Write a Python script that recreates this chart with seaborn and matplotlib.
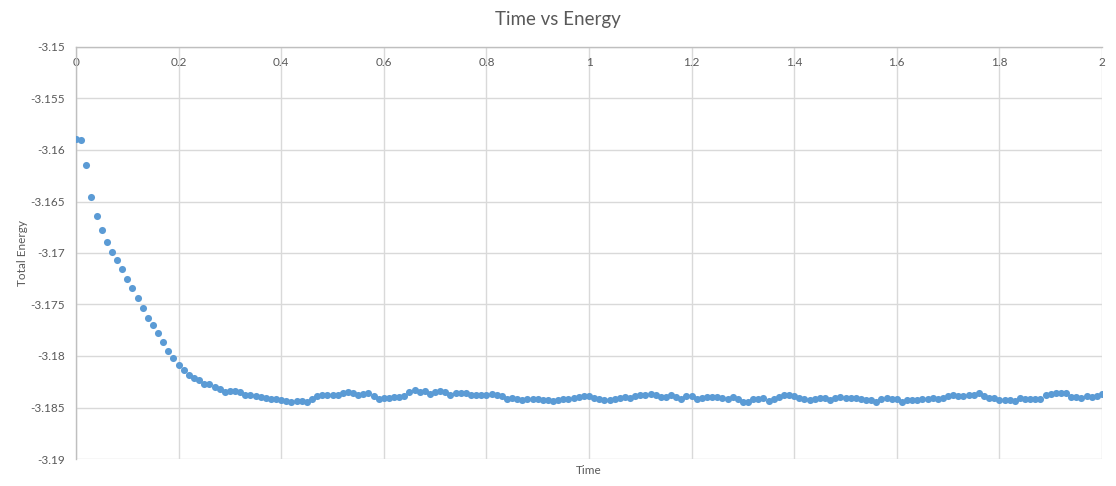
import numpy as np
import pandas as pd
import seaborn as sns
import matplotlib.pyplot as plt
from matplotlib.ticker import FormatStrFormatter, MultipleLocator

# time axis: 0 to 2 in steps of 0.01 (201 samples)
t_start, t_stop, n_steps = 0.0, 2.0, 201
time = np.round(np.linspace(t_start, t_stop, n_steps), 2)

# total energy
energy = [
    -3.15896, -3.15906, -3.16149, -3.16459, -3.16644, -3.16780, -3.16896, -3.16987, -3.17071, -3.17158,
    -3.17255, -3.17343, -3.17440, -3.17537, -3.17634, -3.17702, -3.17780, -3.17867, -3.17954, -3.18022,
    -3.18090, -3.18139, -3.18187, -3.18216, -3.18233, -3.18275, -3.18275, -3.18298, -3.18323, -3.18348,
    -3.18341, -3.18335, -3.18354, -3.18374, -3.18380, -3.18387, -3.18396, -3.18406, -3.18413, -3.18419,
    -3.18429, -3.18439, -3.18445, -3.18439, -3.18435, -3.18445, -3.18413, -3.18387, -3.18380, -3.18380,
    -3.18380, -3.18374, -3.18361, -3.18354, -3.18361, -3.18374, -3.18367, -3.18358, -3.18385, -3.18413,
    -3.18406, -3.18403, -3.18396, -3.18396, -3.18387, -3.18354, -3.18332, -3.18348, -3.18341, -3.18371,
    -3.18348, -3.18341, -3.18354, -3.18374, -3.18364, -3.18364, -3.18364, -3.18380, -3.18380, -3.18380,
    -3.18380, -3.18371, -3.18380, -3.18390, -3.18413, -3.18406, -3.18419, -3.18426, -3.18413, -3.18413,
    -3.18413, -3.18426, -3.18429, -3.18439, -3.18426, -3.18416, -3.18422, -3.18406, -3.18396, -3.18390,
    -3.18390, -3.18403, -3.18422, -3.18426, -3.18426, -3.18413, -3.18406, -3.18400, -3.18403, -3.18390,
    -3.18380, -3.18380, -3.18371, -3.18374, -3.18396, -3.18396, -3.18380, -3.18396, -3.18413, -3.18390,
    -3.18390, -3.18413, -3.18406, -3.18400, -3.18400, -3.18400, -3.18406, -3.18419, -3.18400, -3.18419,
    -3.18445, -3.18445, -3.18419, -3.18413, -3.18406, -3.18439, -3.18419, -3.18396, -3.18374, -3.18374,
    -3.18387, -3.18403, -3.18419, -3.18426, -3.18422, -3.18403, -3.18403, -3.18429, -3.18406, -3.18396,
    -3.18403, -3.18403, -3.18406, -3.18413, -3.18429, -3.18432, -3.18445, -3.18419, -3.18403, -3.18413,
    -3.18413, -3.18451, -3.18429, -3.18429, -3.18426, -3.18419, -3.18419, -3.18403, -3.18413, -3.18406,
    -3.18393, -3.18377, -3.18387, -3.18393, -3.18380, -3.18374, -3.18364, -3.18387, -3.18403, -3.18406,
    -3.18429, -3.18429, -3.18432, -3.18439, -3.18406, -3.18413, -3.18413, -3.18419, -3.18413, -3.18380,
    -3.18367, -3.18361, -3.18358, -3.18364, -3.18396, -3.18400, -3.18403, -3.18387, -3.18396, -3.18393,
    -3.18367,
]

title = "Time vs Energy"
x_label = "Time"
y_label = "Total Energy"

df = pd.DataFrame({"Time": time, "Total Energy": energy})

sns.set_style("white")
plt.rcParams["font.family"] = ["Lato", "DejaVu Sans"]

text_color = "#595959"
grid_color = "#d9d9d9"
axis_color = "#bfbfbf"

fig = plt.figure(figsize=(11.16, 4.86), dpi=100)
ax = fig.add_axes([76 / 1116, 1 - 459 / 486, (1102 - 76) / 1116, (459 - 47) / 486])

sns.scatterplot(
    data=df, x="Time", y="Total Energy", ax=ax,
    color="#5b9bd5", s=26, linewidth=0, zorder=3
)

ax.set_xlim(0, 2)
ax.set_ylim(-3.19, -3.15)
ax.xaxis.set_major_locator(MultipleLocator(0.2))
ax.yaxis.set_major_locator(MultipleLocator(0.005))
ax.xaxis.set_major_formatter(FormatStrFormatter("%g"))
ax.yaxis.set_major_formatter(FormatStrFormatter("%g"))

ax.grid(True, color=grid_color, linewidth=1)
ax.set_axisbelow(True)

# x axis sits at the top, labels just inside the plot area
ax.xaxis.set_ticks_position("top")
ax.xaxis.set_label_position("bottom")
ax.tick_params(axis="x", direction="in", length=0, pad=-15, labelsize=8.5, labelcolor=text_color)
ax.tick_params(axis="y", length=0, pad=8, labelsize=8.5, labelcolor=text_color)

for side in ["right", "bottom"]:
    ax.spines[side].set_visible(False)
for side in ["left", "top"]:
    ax.spines[side].set_color(axis_color)
    ax.spines[side].set_linewidth(1)

ax.set_xlabel(x_label, fontsize=8.5, color=text_color, labelpad=4)
ax.set_ylabel(y_label, fontsize=8.5, color=text_color, labelpad=1.5)

fig.suptitle(title, fontsize=13.5, color=text_color, y=0.978)

fig.savefig("out.png", dpi=100)
